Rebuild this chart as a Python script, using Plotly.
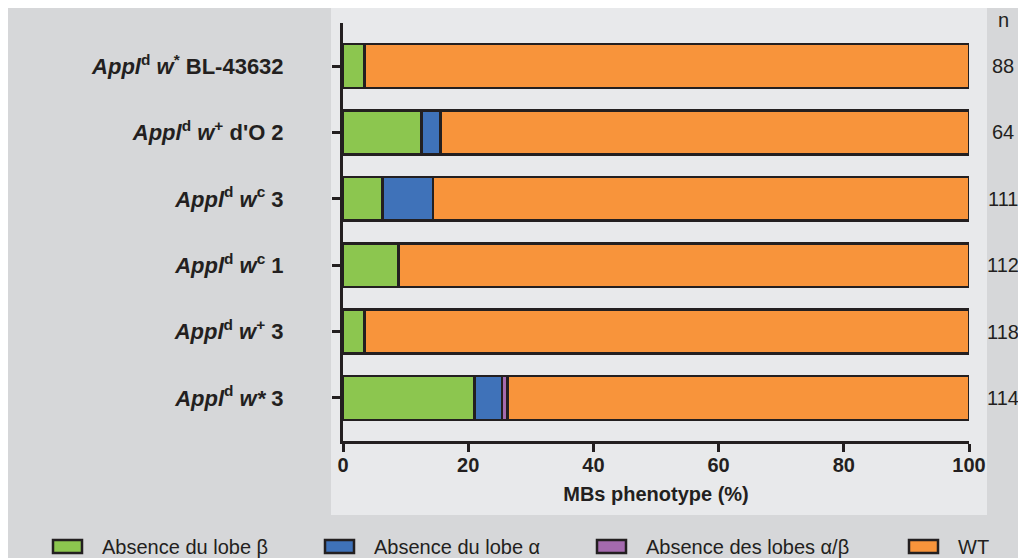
import plotly.graph_objects as go

# Rows listed bottom to top (as drawn on the y axis)
genotypes = [
    "<b><i>Appl</i><sup>d</sup> <i>w*</i> 3</b>",
    "<b><i>Appl</i><sup>d</sup> <i>w</i><sup>+</sup> 3</b>",
    "<b><i>Appl</i><sup>d</sup> <i>w</i><sup>c</sup> 1</b>",
    "<b><i>Appl</i><sup>d</sup> <i>w</i><sup>c</sup> 3</b>",
    "<b><i>Appl</i><sup>d</sup> <i>w</i><sup>+</sup> d'O 2</b>",
    "<b><i>Appl</i><sup>d</sup> <i>w</i><sup>*</sup> BL-43632</b>",
]
n_counts = [114, 118, 112, 111, 64, 88]

categories = ["Absence du lobe β", "Absence du lobe α", "Absence des lobes α/β", "WT"]
beta_absent = [21.0, 3.4, 8.9, 6.3, 12.5, 3.4]
alpha_absent = [4.4, None, None, 8.1, 3.1, None]
ab_absent = [0.9, None, None, None, None, None]
wild_type = [73.7, 96.6, 91.1, 85.6, 84.4, 96.6]
series = [beta_absent, alpha_absent, ab_absent, wild_type]

colors = ["#8cc64f", "#3f72b9", "#a46aae", "#f8943b"]
ink = "#231f20"
font_family = "Liberation Sans, Arial, sans-serif"

rows = list(range(len(genotypes)))

fig = go.Figure()
for name, vals, col in zip(categories, series, colors):
    fig.add_trace(go.Bar(
        x=vals, y=rows, name=name, orientation="h",
        width=0.66,
        marker=dict(color=col, line=dict(color=ink, width=2.5)),
        cliponaxis=False,
        showlegend=False,
    ))

# the page puts the figure 8px in from the top-left corner
OFF = 8
FW, FH = 1026 - OFF, 558 - OFF
# plot area in page pixels
L, T, W, H = 343, 23, 626, 418


def px(x):
    return (x - L) / W


def py(y):
    return (T + H - y) / H


shapes = [
    # lighter chart panel
    dict(type="rect", xref="paper", yref="paper", layer="below",
         x0=px(331), x1=px(987), y0=py(515), y1=py(0),
         fillcolor="#e8e9eb", line=dict(width=0)),
]

annotations = []
# n column
annotations.append(dict(xref="paper", yref="paper", x=px(1003), y=py(20),
                        text="n", showarrow=False, xanchor="center", yanchor="middle",
                        font=dict(size=20, color=ink, family=font_family)))
for r, n in zip(rows, n_counts):
    annotations.append(dict(xref="paper", yref="y", x=px(1003), y=r,
                            text=str(n), showarrow=False, xanchor="center", yanchor="middle",
                            font=dict(size=20, color=ink, family=font_family)))

# custom legend
box_left = [53, 325, 597, 909]
for name, col, bx in zip(categories, colors, box_left):
    shapes.append(dict(type="rect", xref="paper", yref="paper",
                       x0=px(bx), x1=px(bx + 29), y0=py(553), y1=py(540),
                       fillcolor=col, line=dict(color=ink, width=2.5)))
    annotations.append(dict(xref="paper", yref="paper", x=px(bx + 47), y=py(547),
                            text=name, showarrow=False, xanchor="left", yanchor="middle",
                            font=dict(size=20, color=ink, family=font_family)))

fig.update_layout(
    width=FW, height=FH,
    margin=dict(l=L - OFF, r=FW - (L - OFF) - W, t=T - OFF, b=FH - (T - OFF) - H),
    paper_bgcolor="#d6d7d9",
    plot_bgcolor="rgba(0,0,0,0)",
    barmode="stack",
    font=dict(family=font_family, color=ink),
    shapes=shapes,
    annotations=annotations,
    xaxis=dict(
        range=[0, 100], tickvals=[0, 20, 40, 60, 80, 100],
        showgrid=False, zeroline=False,
        showline=True, linewidth=3, linecolor=ink,
        ticks="outside", ticklen=8, tickwidth=3, tickcolor=ink,
        ticklabelstandoff=-4,
        tickfont=dict(size=20, color=ink, family=font_family, weight="bold"),
        title=dict(text="<b>MBs phenotype (%)</b>", standoff=12,
                   font=dict(size=20, color=ink, family=font_family)),
    ),
    yaxis=dict(
        range=[-0.65, 5.65], tickvals=rows, ticktext=genotypes,
        showgrid=False, zeroline=False,
        showline=True, linewidth=3, linecolor=ink,
        ticks="outside", ticklen=8, tickwidth=3, tickcolor=ink,
        ticklabelstandoff=44,
        tickfont=dict(size=22, color=ink, family=font_family),
    ),
)

fig.write_html("out.html")
